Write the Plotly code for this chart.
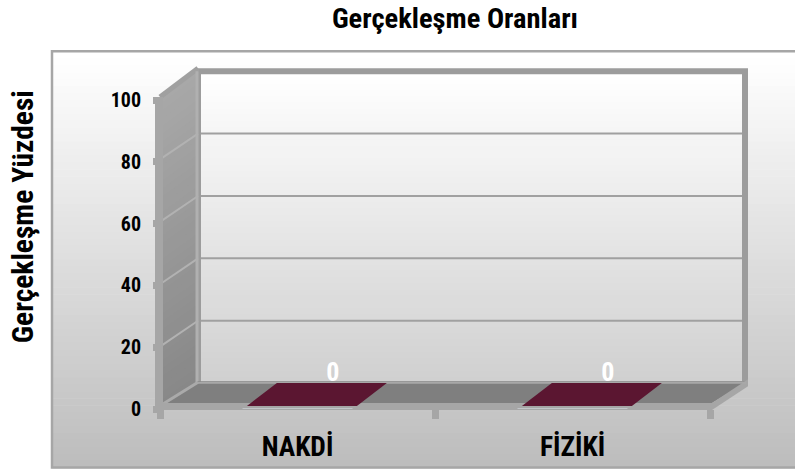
import plotly.graph_objects as go

# ---------------- data ----------------
categories = ["NAKDİ", "FİZİKİ"]
values = [0, 0]
y_ticks = [0, 20, 40, 60, 80, 100]
title_text = "Gerçekleşme Oranları"
y_title_text = "Gerçekleşme Yüzdesi"

# ---------------- style ----------------
FONT = "Liberation Sans Narrow, Arial Narrow, Roboto Condensed, Liberation Sans, Arial, sans-serif"
W, H = 795, 475
OFF = 0  # page body margin removed (see post_script)
# plot area in page pixels: x 160..710, y 100..411
L, R, T, B = 160 - OFF, W - (710 - OFF), 100 - OFF, H - (411 - OFF)
PW, PH = W - L - R, H - T - B
BAR_COLOR = "#5B1631"


def px(x):
    return (x - OFF - L) / PW


def py(y):
    return (H - B - (y - OFF)) / PH


shapes = []


def rect(x0, y0, x1, y1, fill, line_color=None, lw=0):
    shapes.append(dict(type="rect", xref="paper", yref="paper", layer="below",
                       x0=px(x0), x1=px(x1), y0=py(y0), y1=py(y1),
                       fillcolor=fill, line=dict(width=lw, color=line_color or fill)))


def poly(pts, fill=None, line_color=None, lw=0, closed=True):
    path = "M " + " L ".join(f"{px(a)},{py(b)}" for a, b in pts) + (" Z" if closed else "")
    shapes.append(dict(type="path", xref="paper", yref="paper", layer="below", path=path,
                       fillcolor=fill if fill else "rgba(0,0,0,0)",
                       line=dict(width=lw, color=line_color or "rgba(0,0,0,0)")))


def mix(c1, c2, t):
    a = [int(c1[i:i + 2], 16) for i in (1, 3, 5)]
    b = [int(c2[i:i + 2], 16) for i in (1, 3, 5)]
    return "rgb(%d,%d,%d)" % tuple(round(a[k] + (b[k] - a[k]) * t) for k in range(3))


def grad_rect(x0, y0, x1, y1, ctop, cbot, n=50):
    h = (y1 - y0) / n
    for i in range(n):
        rect(x0, y0 + i * h, x1, y0 + (i + 1) * h + 0.6, mix(ctop, cbot, i / (n - 1)))


# outer chart area with gradient
grad_rect(52, 51, 810, 470, "#ffffff", "#bdbdbd", 60)
rect(52, 51, 810, 470, "rgba(0,0,0,0)", "#a6a6a6", 2.5)

# back wall
BX0, BX1, BY0, BY1 = 198, 745, 71, 385
grad_rect(BX0, BY0, BX1, BY1, "#ffffff", "#d0d0d0", 50)
for v in y_ticks[1:-1]:
    yb = BY1 - v * (BY1 - BY0) / 100
    poly([(BX0, yb), (BX1, yb)], None, "#a0a0a0", 2, closed=False)
poly([(BX0, BY1), (BX0, BY0), (BX1, BY0), (BX1, BY1 - 2)], None, "#9c9c9c", 6, closed=False)

# side wall
FX, FY0, FY1 = 160, 97, 411
n = 40
for i in range(n):
    t0, t1 = i / n, (i + 1) / n + 0.004
    poly([(FX, FY0 + (FY1 - FY0) * t0), (BX0, BY0 - 3 + (BY1 - BY0 + 3) * t0),
          (BX0, BY0 - 3 + (BY1 - BY0 + 3) * t1), (FX, FY0 + (FY1 - FY0) * t1)],
         mix("#a8a8a8", "#888888", i / (n - 1)))
for v in y_ticks[1:-1]:
    yf = FY1 - v * (FY1 - FY0) / 100
    yb = BY1 - v * (BY1 - BY0) / 100
    poly([(FX, yf), (BX0, yb)], None, "#b2b2b2", 2, closed=False)
poly([(FX, FY0), (BX0, BY0 - 3)], None, "#a0a0a0", 5, closed=False)
poly([(BX0 - 1, BY0), (BX0 - 1, BY1)], None, "#b0b0b0", 3, closed=False)

# floor
poly([(163, 405), (BX0, 383), (748, 383), (712, 405)], "#7f7f7f")
poly([(163, 406), (BX0, 384)], None, "#aaaaaa", 3, closed=False)
rect(155, 405, 712, 412, "#a6a6a6")
poly([(712, 405), (748, 381), (748, 388), (712, 412)], "#a6a6a6")
poly([(BX0, 384.5), (746, 384.5)], None, "#a8a8a8", 2, closed=False)
# front vertical axis band
rect(155, 97, 163, 412, "#a6a6a6")

fig = go.Figure()

# bars (zero height) as real bars
fig.add_trace(go.Bar(x=list(range(len(categories))), y=values, width=0.4,
                     marker=dict(color=BAR_COLOR), hoverinfo="skip", showlegend=False))

# top face of each (zero-height) 3D bar, built from the values
BAR_HALF, BAR_OFF, BAR_DX = 0.2, 0.016, 0.109
FRONT_Y, BACK_Y = 1.0, 8.4
for i, v in enumerate(values):
    c = i + BAR_OFF
    xs = [c - BAR_HALF, c + BAR_HALF, c + BAR_HALF + BAR_DX, c - BAR_HALF + BAR_DX, c - BAR_HALF]
    ys = [v + FRONT_Y, v + FRONT_Y, v + BACK_Y, v + BACK_Y, v + FRONT_Y]
    fig.add_trace(go.Scatter(x=xs, y=ys, mode="lines", fill="toself", fillcolor=BAR_COLOR,
                             line=dict(width=0, color=BAR_COLOR), hoverinfo="skip",
                             showlegend=False))

# data labels
fig.add_trace(go.Scatter(x=[i + 0.128 for i in range(len(values))],
                         y=[v + 11.3 for v in values], mode="text",
                         text=[str(v) for v in values], textposition="middle center",
                         textfont=dict(family=FONT, size=26, color="white", weight="bold"),
                         hoverinfo="skip", showlegend=False))

fig.update_layout(
    width=W, height=H,
    margin=dict(l=L, r=R, t=T, b=B, pad=0),
    paper_bgcolor="white", plot_bgcolor="rgba(0,0,0,0)",
    shapes=shapes,
    showlegend=False,
    title=dict(text=title_text, x=(455 - OFF) / W, xanchor="center", xref="container",
               y=1 - (18 - OFF) / H, yanchor="middle", yref="container",
               font=dict(family=FONT, size=28.5, color="black", weight="bold")),
    annotations=[dict(text=y_title_text, xref="paper", yref="paper",
                      x=px(23), y=py(218), xanchor="center", yanchor="middle",
                      textangle=-90, showarrow=False,
                      font=dict(family=FONT, size=29.5, color="black", weight="bold"))],
)

fig.update_xaxes(range=[-0.5, 1.5], tickvals=list(range(len(categories))), ticktext=categories,
                 showgrid=False, zeroline=False, showline=False, ticks="",
                 ticklabelstandoff=18,
                 tickfont=dict(family=FONT, size=27.5, color="black", weight="bold"),
                 minor=dict(tick0=-0.5, dtick=1, ticks="outside", ticklen=9, tickwidth=7,
                            tickcolor="#a6a6a6", showgrid=False),
                 fixedrange=True)
fig.update_yaxes(range=[0, 100], tickvals=y_ticks, showgrid=False, zeroline=False,
                 showline=False, ticks="outside", ticklen=6, tickwidth=7, tickcolor="#a6a6a6",
                 ticklabelstandoff=8,
                 tickfont=dict(family=FONT, size=20, color="black", weight="bold"),
                 fixedrange=True)

fig.write_html("out.html", config={"displayModeBar": False, "staticPlot": True},
               post_script="document.body.style.margin='0px';document.body.style.overflow='hidden';")
